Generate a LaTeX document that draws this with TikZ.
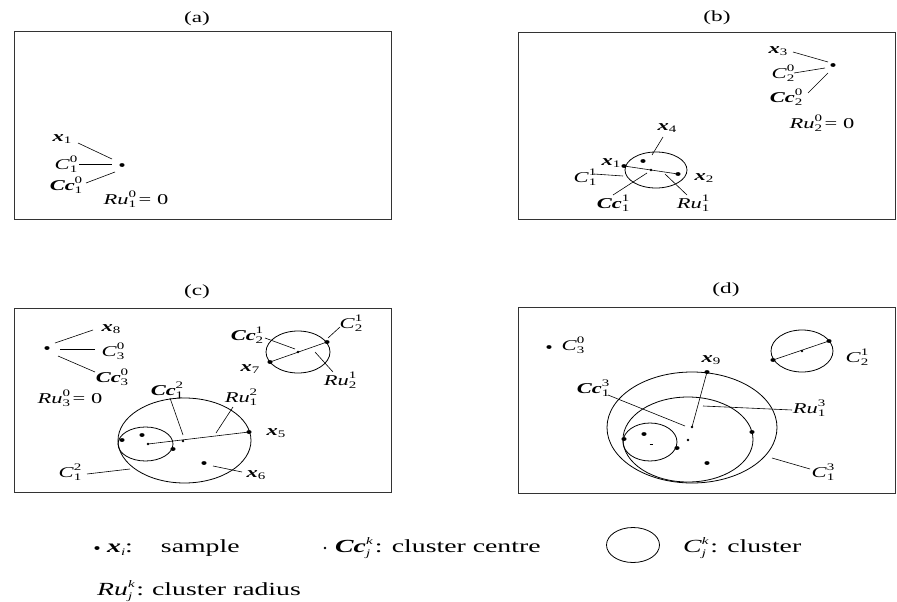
\documentclass[tikz,border=0pt]{standalone}
\usepackage{fontspec}
\setmainfont{Liberation Serif}[FakeStretch=1.5]
\newcommand\BI[1]{{\bfseries\itshape #1}}
\newsavebox\supbox
\newsavebox\subbox
\newcommand\SupSub[2]{\sbox\supbox{\fontsize{10}{10}\selectfont #1\/}\sbox\subbox{\fontsize{10}{10}\selectfont #2\/}\makebox[0pt][l]{\raisebox{1.0ex}{\usebox\supbox}}\raisebox{-0.45ex}{\usebox\subbox}\ifdim\wd\supbox>\wd\subbox\hspace{\dimexpr\wd\supbox-\wd\subbox\relax}\fi}
\newcommand\Sb[1]{\raisebox{-0.3ex}{\fontsize{10}{10}\selectfont #1}}
\begin{document}
\begin{tikzpicture}[x=1pt,y=-1pt,
  lbl/.style={inner sep=0pt, font=\fontsize{15}{17}\selectfont},
  ttl/.style={inner sep=0pt, font=\fontsize{15.5}{17}\selectfont},
  leg/.style={inner sep=0pt, anchor=west, font=\fontsize{18.5}{20}\selectfont},
  frame/.style={draw=black!80, line width=1pt},
  lead/.style={line width=0.6pt},
  clu/.style={line width=0.8pt},
  samp/.style={fill=black, x radius=2.6, y radius=1.9},
  cdot/.style={fill=black, radius=1.4}]
\useasboundingbox (0,0) rectangle (897,602);

% ---------------- (a)
\draw[frame] (14,32) rectangle (391,219);
\node[ttl] (ta) at (197,19) {(a)};
\coordinate (a1) at (122,165);
\fill[samp] (a1) ellipse [];
\node[lbl] (ax1) at (62,139) {\BI{x}\Sb{1}};
\node[lbl] (aC) at (66,164) {\textit{C}\SupSub{0}{1}};
\node[lbl] (aCc) at (66,185) {\BI{Cc}\SupSub{0}{1}};
\node[lbl] (aRu) at (136,199) {\textit{Ru}\SupSub{0}{1}\,= 0};
\coordinate (ax1e) at (78,143); \coordinate (ax1p) at (112,159);
\coordinate (aCe) at (79,164);  \coordinate (aCp) at (112,164);
\coordinate (aCce) at (86,183); \coordinate (aCcp) at (115,172);
\draw[lead] (ax1e) -- (ax1p);
\draw[lead] (aCe) -- (aCp);
\draw[lead] (aCce) -- (aCcp);

% ---------------- (b)
\draw[frame] (518,33) rectangle (895,219);
\node[ttl] (tb) at (717,18) {(b)};
\coordinate (b3) at (833,65);
\fill[samp] (b3) ellipse [];
\node[lbl] (bx3) at (778,51) {\BI{x}\Sb{3}};
\node[lbl] (bC2) at (783,73) {\textit{C}\SupSub{0}{2}};
\node[lbl] (bCc2) at (786,97) {\BI{Cc}\SupSub{0}{2}};
\node[lbl] (bRu2) at (822,123) {\textit{Ru}\SupSub{0}{2}\,= 0};
\coordinate (bx3e) at (793,52); \coordinate (bx3p) at (828,62);
\coordinate (bC2e) at (794,73); \coordinate (bC2p) at (825,68);
\coordinate (bCc2e) at (808,93); \coordinate (bCc2p) at (828,73);
\draw[lead] (bx3e) -- (bx3p);
\draw[lead] (bC2e) -- (bC2p);
\draw[lead] (bCc2e) -- (bCc2p);
\coordinate (bc) at (656,170);
\draw[clu] (bc) ellipse [x radius=31, y radius=18];
\coordinate (b1) at (624,166); \coordinate (b2) at (678,174);
\coordinate (b4) at (643,161); \coordinate (bcc) at (651,170);
\draw[lead] (b1) -- (b2);
\fill[samp] (b1) ellipse []; \fill[samp] (b2) ellipse []; \fill[samp] (b4) ellipse [];
\fill[cdot] (bcc) circle [];
\node[lbl] (bx4) at (667,128) {\BI{x}\Sb{4}};
\node[lbl] (bx1) at (611,163) {\BI{x}\Sb{1}};
\node[lbl] (bC1) at (585,177) {\textit{C}\SupSub{1}{1}};
\node[lbl] (bx2) at (704,178) {\BI{x}\Sb{2}};
\node[lbl] (bCc1) at (613,203) {\BI{Cc}\SupSub{1}{1}};
\node[lbl] (bRu1) at (693,203) {\textit{Ru}\SupSub{1}{1}};
\coordinate (bx4e) at (663,137); \coordinate (bx4p) at (652,155);
\coordinate (bC1e) at (594,174); \coordinate (bC1p) at (623,176);
\coordinate (bCc1e) at (613,195); \coordinate (bCc1p) at (647,173);
\coordinate (bRu1e) at (687,195); \coordinate (bRu1p) at (665,174);
\draw[lead] (bx4e) -- (bx4p);
\draw[lead] (bC1e) -- (bC1p);
\draw[lead] (bCc1e) -- (bCc1p);
\draw[lead] (bRu1e) -- (bRu1p);

% ---------------- (c)
\draw[frame] (14,308) rectangle (391,492);
\node[ttl] (tc) at (197,292) {(c)};
\coordinate (c8) at (47,348);
\fill[samp] (c8) ellipse [];
\node[lbl] (cx8) at (111,329) {\BI{x}\Sb{8}};
\node[lbl] (cC3) at (113,351) {\textit{C}\SupSub{0}{3}};
\node[lbl] (cCc3) at (112,377) {\BI{Cc}\SupSub{0}{3}};
\node[lbl] (cRu3) at (70,398) {\textit{Ru}\SupSub{0}{3}\,= 0};
\coordinate (cx8e) at (93,330); \coordinate (cx8p) at (55,343);
\coordinate (cC3e) at (95,349); \coordinate (cC3p) at (60,349);
\coordinate (cCc3e) at (95,372); \coordinate (cCc3p) at (58,356);
\draw[lead] (cx8e) -- (cx8p);
\draw[lead] (cC3e) -- (cC3p);
\draw[lead] (cCc3e) -- (cCc3p);
% cluster 2
\coordinate (cc2) at (298,352);
\draw[clu] (cc2) ellipse [x radius=32, y radius=21];
\coordinate (c7) at (270,362); \coordinate (c2e) at (327,342);
\draw[lead] (c7) -- (c2e);
\fill[samp] (c7) ellipse []; \fill[samp] (c2e) ellipse [];
\fill[cdot] (cc2) circle [];
\node[lbl] (cCc21) at (247,335) {\BI{Cc}\SupSub{1}{2}};
\node[lbl] (cC21) at (351,323) {\textit{C}\SupSub{1}{2}};
\node[lbl] (cx7) at (250,369) {\BI{x}\Sb{7}};
\node[lbl] (cRu21) at (340,380) {\textit{Ru}\SupSub{1}{2}};
\coordinate (cCc21e) at (265,338); \coordinate (cCc21p) at (295,349);
\coordinate (cC21e) at (340,327); \coordinate (cC21p) at (328,338);
\coordinate (cRu21e) at (333,372); \coordinate (cRu21p) at (315,352);
\draw[lead] (cCc21e) -- (cCc21p);
\draw[lead] (cC21e) -- (cC21p);
\draw[lead] (cRu21e) -- (cRu21p);
% cluster 1
\coordinate (cbig) at (184.5,440.5);
\draw[clu] (cbig) ellipse [x radius=66.5, y radius=42.5];
\coordinate (csm) at (145.5,444);
\draw[clu] (csm) ellipse [x radius=27.5, y radius=17];
\coordinate (cs1) at (122,440); \coordinate (cs2) at (142,435);
\coordinate (cs3) at (173,449); \coordinate (c5) at (249,432);
\coordinate (c6) at (204,463);
\coordinate (ccd1) at (148,444); \coordinate (ccd2) at (183,441);
\draw[lead] (ccd1) -- (c5);
\foreach \p in {cs1,cs2,cs3,c5,c6} \fill[samp] (\p) ellipse [];
\fill[cdot] (ccd1) circle []; \fill[cdot] (ccd2) circle [];
\node[lbl] (cCc12) at (167,390) {\BI{Cc}\SupSub{2}{1}};
\node[lbl] (cRu12) at (241,397) {\textit{Ru}\SupSub{2}{1}};
\node[lbl] (cx5) at (276,433) {\BI{x}\Sb{5}};
\node[lbl] (cx6) at (256,475) {\BI{x}\Sb{6}};
\node[lbl] (cC12) at (70,472) {\textit{C}\SupSub{2}{1}};
\coordinate (cCc12e) at (170,398); \coordinate (cCc12p) at (183,435);
\coordinate (cRu12e) at (233,407); \coordinate (cRu12p) at (216,433);
\coordinate (cx6e) at (242,472); \coordinate (cx6p) at (213,466);
\coordinate (cC12e) at (87,474); \coordinate (cC12p) at (130,469);
\draw[lead] (cCc12e) -- (cCc12p);
\draw[lead] (cRu12e) -- (cRu12p);
\draw[lead] (cx6e) -- (cx6p);
\draw[lead] (cC12e) -- (cC12p);

% ---------------- (d)
\draw[frame] (518,307) rectangle (895,493);
\node[ttl] (td) at (726,290) {(d)};
\coordinate (d30) at (549,347);
\fill[samp] (d30) ellipse [];
\node[lbl] (dC30) at (573,345) {\textit{C}\SupSub{0}{3}};
\coordinate (dc2) at (802,351);
\draw[clu] (dc2) ellipse [x radius=31, y radius=21];
\coordinate (d7) at (773,360); \coordinate (d2e) at (829,341);
\draw[lead] (d7) -- (d2e);
\fill[samp] (d7) ellipse []; \fill[samp] (d2e) ellipse [];
\fill[cdot] (dc2) circle [];
\node[lbl] (dC21) at (857,357) {\textit{C}\SupSub{1}{2}};
\coordinate (dbig) at (692,427.5);
\draw[clu] (dbig) ellipse [x radius=85, y radius=55.5];
\coordinate (dmid) at (688,439.5);
\draw[clu] (dmid) ellipse [x radius=65, y radius=42.5];
\coordinate (dsm) at (650,442);
\draw[clu] (dsm) ellipse [x radius=27, y radius=19];
\coordinate (ds1) at (624,439); \coordinate (ds2) at (644,434);
\coordinate (ds3) at (677,448); \coordinate (ds5) at (752,432);
\coordinate (ds6) at (707,463); \coordinate (d9) at (707,372);
\coordinate (ddash) at (651,444);
\coordinate (dcold) at (688,440); \coordinate (dcnew) at (692,427);
\draw[lead] (d9) -- (dcnew);
\foreach \p in {ds1,ds2,ds3,ds5,ds6,d9} \fill[samp] (\p) ellipse [];
\draw[line width=1pt] ([xshift=-1.5]ddash) -- ([xshift=1.5]ddash);
\fill[cdot] (dcold) circle []; \fill[cdot] (dcnew) circle [];
\node[lbl] (dCc13) at (593,388) {\BI{Cc}\SupSub{3}{1}};
\node[lbl] (dx9) at (711,360) {\BI{x}\Sb{9}};
\node[lbl] (dRu13) at (809,408) {\textit{Ru}\SupSub{3}{1}};
\node[lbl] (dC13) at (823,472) {\textit{C}\SupSub{3}{1}};
\coordinate (dCc13e) at (608,395); \coordinate (dCc13p) at (685,426);
\coordinate (dRu13e) at (792,410); \coordinate (dRu13p) at (703,406);
\coordinate (dC13e) at (810,469); \coordinate (dC13p) at (772,458);
\draw[lead] (dCc13e) -- (dCc13p);
\draw[lead] (dRu13e) -- (dRu13p);
\draw[lead] (dC13e) -- (dC13p);

% ---------------- legend
\coordinate (lsamp) at (97,548);
\fill[samp] (lsamp) ellipse [];
\node[leg] (lx) at (107,548) {\BI{x}\Sb{\textit{i}}:\hspace{28pt}sample};
\coordinate (ldot) at (325,548);
\fill[cdot] (ldot) circle [];
\node[leg] (lcc) at (335,548) {\BI{Cc}\SupSub{\textit{k}}{\textit{j}}\hspace{2pt}: cluster centre};
\coordinate (lcirc) at (633,545);
\draw[clu] (lcirc) ellipse [x radius=26.5, y radius=17.5];
\node[leg] (lc) at (683,548) {\textit{C}\SupSub{\textit{k}}{\textit{j}}\hspace{1.5pt}: cluster};
\node[leg] (lru) at (97,591) {\textit{Ru}\SupSub{\textit{k}}{\textit{j}}\hspace{1.5pt}:\hspace{8pt}cluster radius};
\end{tikzpicture}
\end{document}
